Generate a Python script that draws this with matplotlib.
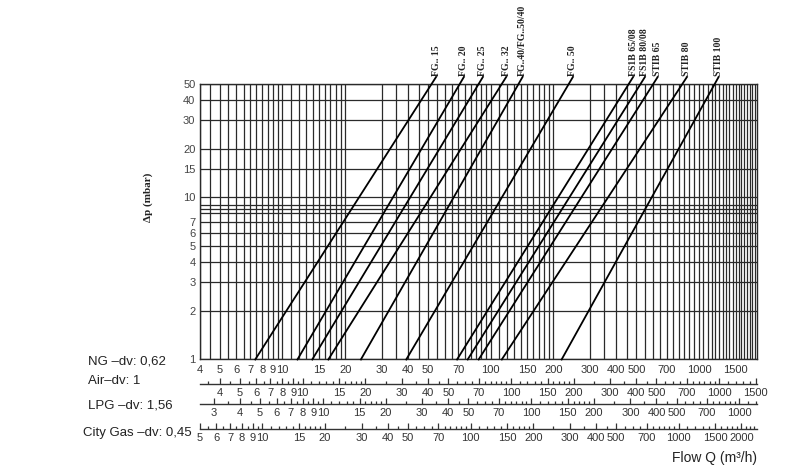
import numpy as np
import matplotlib
matplotlib.use("Agg")
import matplotlib.pyplot as plt
from matplotlib.ticker import FixedLocator, NullFormatter

# ---------------- data ----------------
models = ["FG.. 15", "FG.. 20", "FG.. 25", "FG.. 32", "FG..40/FG..50/40", "FG.. 50",
          "FS1B 65/08", "FS1B 80/08", "STIB 65", "STIB 80", "STIB 100"]
# NG flow (m3/h) where each curve crosses 1 mbar and 50 mbar
q_at_1mbar = [7.4, 11.8, 13.9, 16.6, 23.8, 39.3, 68.9, 77.5, 87.5, 113, 219]
q_at_50mbar = [52, 71, 87.5, 113, 136, 237, 460, 524, 603, 832, 1190]
dp_low, dp_high = 1, 50

dp_ticks = [1, 2, 3, 4, 5, 6, 7, 10, 15, 20, 30, 40, 50]
dp_grid = [1, 2, 3, 4, 5, 6, 7, 8, 8.5, 9, 10, 15, 20, 30, 40, 50]

ng_ticks = [4, 5, 6, 7, 8, 9, 10, 15, 20, 30, 40, 50, 70, 100, 150, 200, 300, 400, 500, 700, 1000, 1500]
air_ticks = [4, 5, 6, 7, 8, 9, 10, 15, 20, 30, 40, 50, 70, 100, 150, 200, 300, 400, 500, 700, 1000, 1500]
lpg_ticks = [3, 4, 5, 6, 7, 8, 9, 10, 15, 20, 30, 40, 50, 70, 100, 150, 200, 300, 400, 500, 700, 1000]
city_ticks = [5, 6, 7, 8, 9, 10, 15, 20, 30, 40, 50, 70, 100, 150, 200, 300, 400, 500, 700, 1000, 1500, 2000]

flow_grid = ([4 + 0.5 * i for i in range(12)] + list(range(10, 21)) + list(range(30, 100, 5))
             + list(range(100, 210, 10)) + list(range(300, 1900, 50)))
minor_scale = ([2.5 + 0.5 * i for i in range(15)] + list(range(10, 20)) + list(range(20, 100, 5))
               + list(range(100, 200, 10)) + list(range(200, 1000, 50)) + list(range(1000, 2600, 100)))

# scale factors of the lower flow scales relative to NG
air_factor = 0.80
lpg_factor = 0.64
city_factor = 1.25

scale_rows = [
    ("Air–dv: 1", air_factor, air_ticks, -0.090),
    ("LPG –dv: 1,56", lpg_factor, lpg_ticks, -0.1626),
    ("City Gas –dv: 0,45", city_factor, city_ticks, -0.2534),
]

# ---------------- figure ----------------
plt.rcParams["font.family"] = ["Liberation Sans", "DejaVu Sans"]
fig = plt.figure(figsize=(8, 4.75), dpi=100)
ax = fig.add_axes([0.2495, 0.2432, 0.6968, 0.58])
ax.set_xscale("log")
ax.set_yscale("log")
ax.set_xlim(4, 1900)
ax.set_ylim(dp_low, dp_high)

gcol = "#2a2a2a"
ax.xaxis.set_major_locator(FixedLocator(ng_ticks))
ax.set_xticklabels([str(v) for v in ng_ticks])
ax.xaxis.set_minor_locator(FixedLocator(flow_grid))
ax.xaxis.set_minor_formatter(NullFormatter())
ax.yaxis.set_major_locator(FixedLocator(dp_ticks))
ax.set_yticklabels([str(v) for v in dp_ticks])
ax.yaxis.set_minor_locator(FixedLocator(dp_grid))
ax.yaxis.set_minor_formatter(NullFormatter())
ax.grid(True, which="both", color=gcol, linewidth=0.9)
ax.tick_params(which="both", length=0)
ax.tick_params(axis="x", pad=4, labelsize=8, labelcolor="#333333")
ax.tick_params(axis="y", pad=3, labelsize=8, labelcolor="#444444")
for s in ax.spines.values():
    s.set_color(gcol)
    s.set_linewidth(1.0)

# pressure-drop curves (straight lines on log-log)
dp_stub = dp_high * 1.105
for name, q1, q50 in zip(models, q_at_1mbar, q_at_50mbar):
    expo = np.log(q50 / q1) / np.log(dp_high / dp_low)
    dps = np.array([dp_low, dp_stub])
    qs = q1 * (dps / dp_low) ** expo
    ax.plot(qs, dps, color="black", linewidth=1.3, clip_on=False, zorder=3)
    ax.text(qs[-1], dp_stub * 1.01, name, rotation=90, ha="center", va="bottom",
            fontsize=7, fontweight="bold", family="Liberation Serif", color="#222222")

# lower flow scales
for label, factor, ticks, loc in scale_rows:
    sec = ax.secondary_xaxis(loc, functions=(lambda q, f=factor: q * f,
                                             lambda q, f=factor: q / f))
    sec.xaxis.set_major_locator(FixedLocator(ticks))
    sec.set_xticklabels([str(v) for v in ticks])
    sec.xaxis.set_minor_locator(FixedLocator([m for m in minor_scale if m not in ticks]))
    sec.xaxis.set_minor_formatter(NullFormatter())
    sec.tick_params(which="major", direction="in", length=4.5, width=0.9, color="#333333",
                    pad=2.5, labelsize=8, labelcolor="#333333")
    sec.tick_params(which="minor", direction="in", length=2.2, width=0.9, color="#333333")
    sec.spines["bottom"].set_color("#333333")
    sec.spines["bottom"].set_linewidth(1.0)

# left labels for the scales
left_labels = [("NG –dv: 0,62", 0.110, 362), ("Air–dv: 1", 0.110, 381),
               ("LPG –dv: 1,56", 0.110, 405), ("City Gas –dv: 0,45", 0.104, 433)]
for txt, xf, ypx in left_labels:
    fig.text(xf, 1 - ypx / 475, txt, ha="left", va="center", fontsize=9.5, color="#222222")

fig.text(0.185, 0.585, "Δp (mbar)", rotation=90, ha="center", va="center",
         fontsize=8, fontweight="bold", family="Liberation Serif", color="#222222")
fig.text(0.946, 1 - 458 / 475, "Flow Q (m³/h)", ha="right", va="center",
         fontsize=10, color="#222222")

fig.savefig("out.png", dpi=100, facecolor="white")
